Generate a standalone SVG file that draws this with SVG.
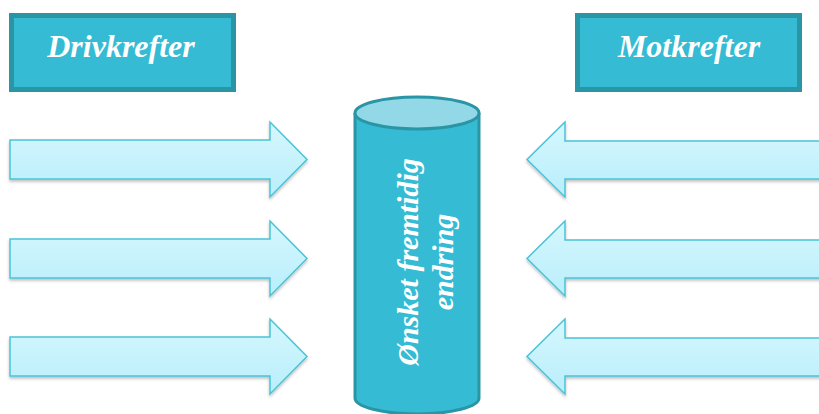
<svg xmlns="http://www.w3.org/2000/svg" width="819" height="414" viewBox="0 0 819 414">
<defs>
<linearGradient id="ag" x1="0" y1="0" x2="0" y2="1">
<stop offset="0" stop-color="#d6f7fe"/>
<stop offset="1" stop-color="#b8eefb"/>
</linearGradient>
<filter id="sh" x="-5%" y="-20%" width="110%" height="150%">
<feDropShadow dx="0" dy="2" stdDeviation="1.5" flood-color="#000" flood-opacity="0.25"/>
</filter>
<style>
.box{fill:#35bbd3;stroke:#2a95a5;stroke-width:5}
.lbl{font-family:"Liberation Serif",serif;font-weight:bold;font-style:italic;fill:#fff;font-size:30px;text-anchor:middle}
.big{font-size:32px}
.arr{fill:url(#ag);stroke:#4ac3d7;stroke-width:1.5;filter:url(#sh)}
.cyl{fill:#35bbd3;stroke:#2a95a5;stroke-width:3}
</style>
</defs>
<rect width="819" height="414" fill="#fff"/>
<g id="drivkrefter">
<rect class="box" x="11.5" y="15.5" width="222" height="74"/>
<text class="lbl big" x="121" y="57">Drivkrefter</text>
</g>
<g id="motkrefter">
<rect class="box" x="577.5" y="15.5" width="222" height="74"/>
<text class="lbl big" x="689" y="57">Motkrefter</text>
</g>
<g id="endring">
<path class="cyl" d="M355,113 V398 A62,16 0 0 0 479,398 V113"/>
<ellipse cx="417" cy="113" rx="62" ry="16" fill="#92d8e6" stroke="#2a95a5" stroke-width="3"/>
<text class="lbl" transform="translate(418,262) rotate(-90)">Ønsket fremtidig</text>
<text class="lbl" transform="translate(453,262) rotate(-90)">endring</text>
</g>
<g id="connectors">
<path id="l1" class="arr" d="M10,140 H270 V122 L307,159.5 L270,197 V179 H10 Z"/>
<path id="l2" class="arr" d="M10,239 H270 V221 L307,258.5 L270,296 V278 H10 Z"/>
<path id="l3" class="arr" d="M10,337 H270 V319 L307,356.5 L270,394 V376 H10 Z"/>
<path id="r1" class="arr" d="M825,141 H565 V122 L527,159.5 L565,197 V179 H825 Z"/>
<path id="r2" class="arr" d="M825,240 H565 V221 L527,258.5 L565,296 V278 H825 Z"/>
<path id="r3" class="arr" d="M825,338 H565 V319 L527,356.5 L565,394 V376 H825 Z"/>
</g>
</svg>
